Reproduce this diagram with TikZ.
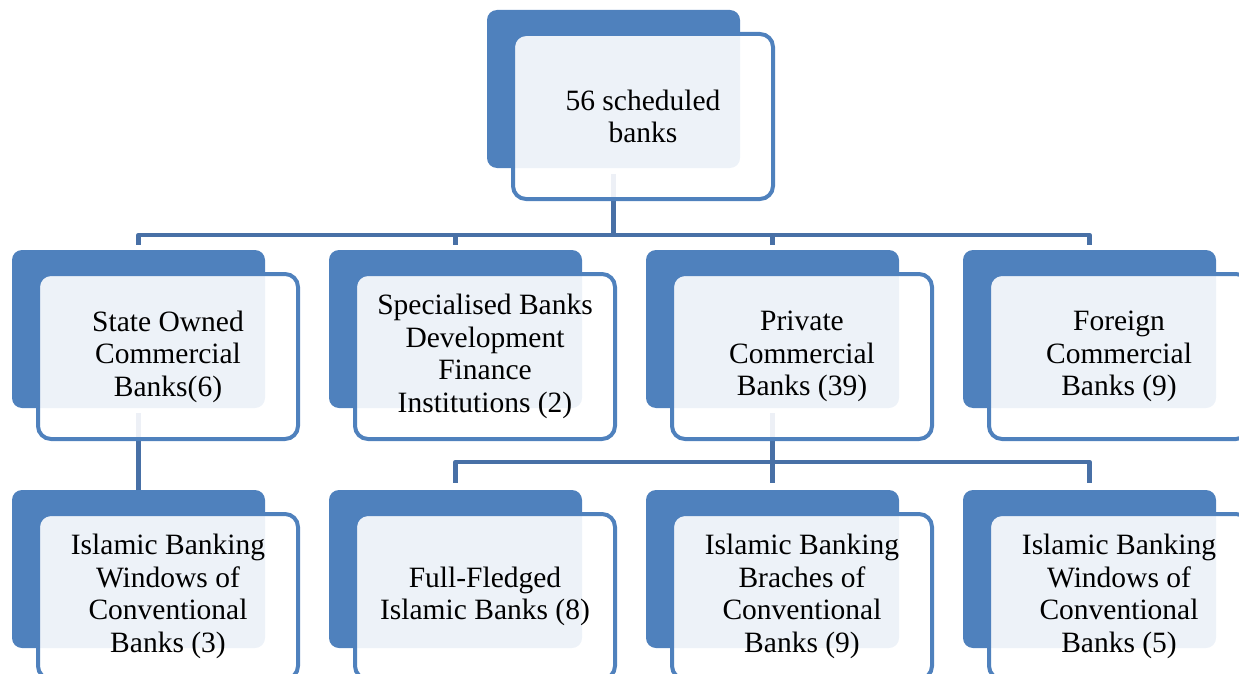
\documentclass[tikz,border=0pt]{standalone}
\usepackage{fontspec}
\setmainfont{Liberation Serif}
\usetikzlibrary{calc}
\definecolor{accent}{HTML}{4F81BD}
\definecolor{connblue}{HTML}{4870A6}
\pgfdeclarelayer{background}
\pgfsetlayers{background,main}
\begin{document}
\begin{tikzpicture}[x=1pt,y=-1pt,
  backbox/.style={rectangle, rounded corners=10pt, fill=accent, draw=none,
    minimum width=253pt, minimum height=158pt, inner sep=0pt},
  frontbox/.style={rectangle, rounded corners=13pt, draw=accent, line width=4pt,
    fill=white, fill opacity=0.9, draw opacity=1, text opacity=1,
    minimum width=260pt, minimum height=165pt, inner sep=0pt, align=center,
    font=\fontsize{29.5}{32.5}\selectfont},
  conn/.style={draw=connblue, line width=4.6pt, line join=round}]
\clip (0,0) rectangle (1239,674);
% back boxes
\node[backbox] (t0b) at (613.5,89) {};
\node[backbox] (b1b) at (138.5,329) {};
\node[backbox] (b2b) at (455.5,329) {};
\node[backbox] (b3b) at (772.5,329) {};
\node[backbox] (b4b) at (1089.5,329) {};
\node[backbox] (c1b) at (138.5,569) {};
\node[backbox] (c2b) at (455.5,569) {};
\node[backbox] (c3b) at (772.5,569) {};
\node[backbox] (c4b) at (1089.5,569) {};
\coordinate (bus1) at (613.5,235);
\coordinate (bus2) at (772.5,462);
% front boxes
\node[frontbox] (t0) at ($(t0b)+(29.5,27.5)$) {56 scheduled\\banks};
\node[frontbox] (b1) at ($(b1b)+(29.5,27.5)$) {State Owned\\Commercial\\Banks(6)};
\node[frontbox] (b2) at ($(b2b)+(29.5,27.5)$) {Specialised Banks\\Development\\Finance\\Institutions (2)};
\node[frontbox] (b3) at ($(b3b)+(29.5,27.5)$) {Private\\Commercial\\Banks (39)};
\node[frontbox] (b4) at ($(b4b)+(29.5,27.5)$) {Foreign\\Commercial\\Banks (9)};
\node[frontbox] (c1) at ($(c1b)+(29.5,27.5)$) {Islamic Banking\\Windows of\\Conventional\\Banks (3)};
\node[frontbox] (c2) at ($(c2b)+(29.5,27.5)$) {Full-Fledged\\Islamic Banks (8)};
\node[frontbox] (c3) at ($(c3b)+(29.5,27.5)$) {Islamic Banking\\Braches of\\Conventional\\Banks (9)};
\node[frontbox] (c4) at ($(c4b)+(29.5,27.5)$) {Islamic Banking\\Windows of\\Conventional\\Banks (5)};
% connectors, under the boxes
\begin{pgfonlayer}{background}
\foreach \n in {b1b,b2b,b3b,b4b}{
  \draw[conn, shorten >=5pt] ($(t0b.south)+(0,6)$) -- (t0b.south |- bus1) -| (\n.north);
}
\draw[conn] ($(b1b.south)+(0,5)$) -- (c1b.north);
\foreach \n in {c2b,c3b,c4b}{
  \draw[conn, shorten >=7pt] ($(b3b.south)+(0,5)$) -- (b3b.south |- bus2) -| (\n.north);
}
\end{pgfonlayer}
\end{tikzpicture}
\end{document}
